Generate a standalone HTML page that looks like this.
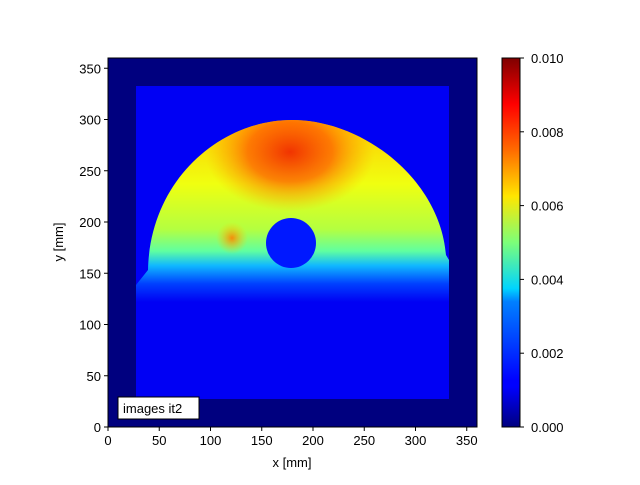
<!DOCTYPE html>
<html><head><meta charset="utf-8"><style>
html,body{margin:0;padding:0;background:#fff;}
svg text{font-family:"Liberation Sans","DejaVu Sans",sans-serif;font-size:13px;fill:#000;}
</style></head><body>
<svg width="640" height="480" xmlns="http://www.w3.org/2000/svg">
<defs>
<linearGradient id="jet" x1="0" y1="1" x2="0" y2="0">
<stop offset="0" stop-color="#00007f"/>
<stop offset="0.11" stop-color="#0000ff"/>
<stop offset="0.125" stop-color="#0000ff"/>
<stop offset="0.34" stop-color="#0080ff"/>
<stop offset="0.375" stop-color="#00d4ff"/>
<stop offset="0.5" stop-color="#7cff79"/>
<stop offset="0.625" stop-color="#ffe600"/>
<stop offset="0.75" stop-color="#ff6c00"/>
<stop offset="0.875" stop-color="#ff0000"/>
<stop offset="1" stop-color="#7f0000"/>
</linearGradient>
<linearGradient id="dome" x1="0" y1="120" x2="0" y2="302" gradientUnits="userSpaceOnUse">
<stop offset="0" stop-color="#ffc800"/>
<stop offset="0.35" stop-color="#f0ff10"/>
<stop offset="0.6" stop-color="#b4ff40"/>
<stop offset="0.72" stop-color="#60ffa0"/>
<stop offset="0.8" stop-color="#10b8ff"/>
<stop offset="0.9" stop-color="#0040ff"/>
<stop offset="1" stop-color="#0000f4"/>
</linearGradient>
<radialGradient id="hot" cx="290" cy="152" r="85" gradientUnits="userSpaceOnUse" gradientTransform="translate(290 152) scale(1 0.7) translate(-290 -152)">
<stop offset="0" stop-color="#f02000" stop-opacity="0.9"/>
<stop offset="0.5" stop-color="#ff5000" stop-opacity="0.7"/>
<stop offset="0.8" stop-color="#ff9000" stop-opacity="0.35"/>
<stop offset="1" stop-color="#ffb000" stop-opacity="0"/>
</radialGradient>
<radialGradient id="spot" cx="232" cy="238" r="16" gradientUnits="userSpaceOnUse">
<stop offset="0" stop-color="#ff8000" stop-opacity="0.9"/>
<stop offset="1" stop-color="#ffd000" stop-opacity="0"/>
</radialGradient>
<clipPath id="dc"><path d="M136,302 L136,285 L148,270 C150,180 220,120 292,120 C364,120 440,180 446,255 L449,260 L449,302 Z"/></clipPath>
</defs>
<rect x="108" y="58" width="369" height="369" fill="#00007f"/>
<rect x="136" y="86" width="313" height="313" fill="#0000f4"/>
<g clip-path="url(#dc)">
<rect x="136" y="110" width="313" height="195" fill="url(#dome)"/>
<rect x="136" y="100" width="313" height="150" fill="url(#hot)"/>
<rect x="200" y="210" width="70" height="60" fill="url(#spot)"/>
</g>
<circle cx="291" cy="243" r="25" fill="#0018ff"/>
<rect x="108" y="58" width="369" height="369" fill="none" stroke="#000" stroke-width="1"/>
<g stroke="#000" stroke-width="1">
<line x1="108" y1="427" x2="108" y2="431"/><line x1="159.25" y1="427" x2="159.25" y2="431"/><line x1="210.5" y1="427" x2="210.5" y2="431"/><line x1="261.75" y1="427" x2="261.75" y2="431"/><line x1="313" y1="427" x2="313" y2="431"/><line x1="364.25" y1="427" x2="364.25" y2="431"/><line x1="415.5" y1="427" x2="415.5" y2="431"/><line x1="466.75" y1="427" x2="466.75" y2="431"/>
<line x1="104" y1="427" x2="108" y2="427"/><line x1="104" y1="375.75" x2="108" y2="375.75"/><line x1="104" y1="324.5" x2="108" y2="324.5"/><line x1="104" y1="273.25" x2="108" y2="273.25"/><line x1="104" y1="222" x2="108" y2="222"/><line x1="104" y1="170.75" x2="108" y2="170.75"/><line x1="104" y1="119.5" x2="108" y2="119.5"/><line x1="104" y1="68.25" x2="108" y2="68.25"/>
</g>
<g text-anchor="middle">
<text x="108" y="445">0</text><text x="159.25" y="445">50</text><text x="210.5" y="445">100</text><text x="261.75" y="445">150</text><text x="313" y="445">200</text><text x="364.25" y="445">250</text><text x="415.5" y="445">300</text><text x="466.75" y="445">350</text>
<text x="292" y="467">x [mm]</text>
</g>
<g text-anchor="end">
<text x="101" y="432">0</text><text x="101" y="380.75">50</text><text x="101" y="329.5">100</text><text x="101" y="278.25">150</text><text x="101" y="227">200</text><text x="101" y="175.75">250</text><text x="101" y="124.5">300</text><text x="101" y="73.25">350</text>
</g>
<text x="63" y="242" text-anchor="middle" transform="rotate(-90 63 242)">y [mm]</text>
<rect x="118" y="397" width="81" height="22" fill="#fff" stroke="#000" stroke-width="1"/>
<text x="123" y="413">images it2</text>
<rect x="502" y="58" width="18" height="369" fill="url(#jet)" stroke="#000" stroke-width="1"/>
<g stroke="#000"><line x1="520" y1="427" x2="524" y2="427"/><line x1="520" y1="353.2" x2="524" y2="353.2"/><line x1="520" y1="279.4" x2="524" y2="279.4"/><line x1="520" y1="205.6" x2="524" y2="205.6"/><line x1="520" y1="131.8" x2="524" y2="131.8"/><line x1="520" y1="58" x2="524" y2="58"/></g>
<text x="531" y="432">0.000</text><text x="531" y="358.2">0.002</text><text x="531" y="284.4">0.004</text><text x="531" y="210.6">0.006</text><text x="531" y="136.8">0.008</text><text x="531" y="63">0.010</text>
</svg>
</body></html>
